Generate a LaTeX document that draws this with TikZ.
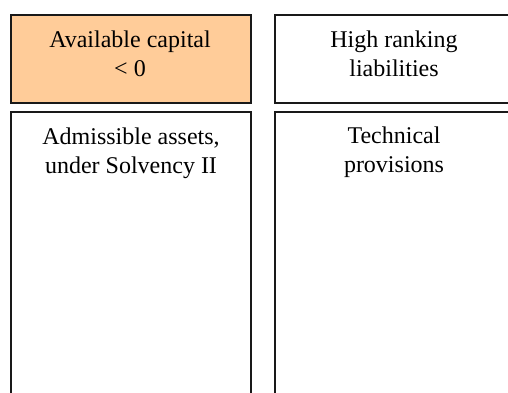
\documentclass[tikz,border=0pt]{standalone}
\usepackage{fontspec}
\setmainfont{Liberation Serif}
\begin{document}
\begin{tikzpicture}[x=1pt,y=-1pt,
  block/.style={draw=black!90, line width=1.6pt, rectangle, inner sep=0pt,
                minimum width=240pt, anchor=north west},
  label/.style={font=\fontsize{24}{29}\selectfont, align=center, anchor=base,
                inner sep=0pt, text=black}]
  \useasboundingbox (0,0) rectangle (508,392);
  \clip (0,0) rectangle (508,392);
  % upper row
  \node[block, fill={rgb,255:red,255;green,204;blue,153}, minimum height=88pt] (capital) at (10,14) {};
  \node[block, minimum height=88pt] (senior) at (274,14) {};
  % lower row, running past the page edge
  \node[block, minimum height=300pt] (assets) at (10,111) {};
  \node[block, minimum height=300pt] (provisions) at (274,111) {};
  % texts (anchored at the baseline of their last line)
  \node[label] (capitaltext) at (130,76) {Available capital\\< 0};
  \node[label] (seniortext) at (394,76) {High ranking\\liabilities};
  \node[label] (assetstext) at (131,173) {Admissible assets,\\under Solvency II};
  \node[label] (provisionstext) at (394,172) {Technical\\provisions};
\end{tikzpicture}
\end{document}
